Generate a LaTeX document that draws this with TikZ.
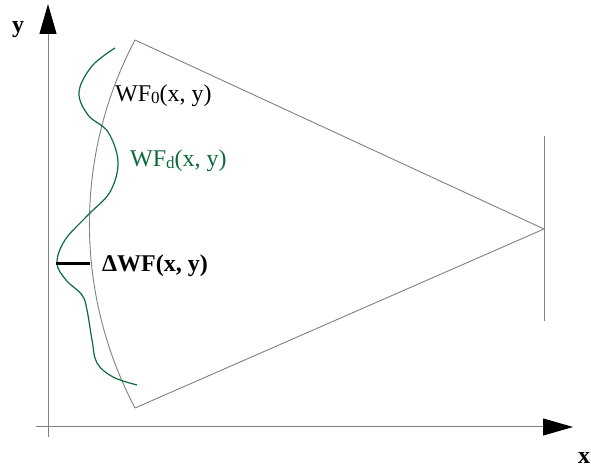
\documentclass[tikz,border=0pt]{standalone}
\usepackage{fontspec}
\setmainfont{Liberation Serif}
\usepackage{xcolor}
\usepackage{tikz}
\usetikzlibrary{arrows.meta, positioning}

\definecolor{wfgreen}{HTML}{0B6B3A}
\newcommand{\wfsub}[1]{{\fontsize{17}{17}\selectfont\raisebox{-1.5pt}{#1}}}

\begin{document}
\begin{tikzpicture}[x=1pt, y=1pt,
    axis/.style={draw=gray, line width=1pt, -{Triangle[length=30pt, width=17pt, color=black]}},
    ray/.style={draw=gray, line width=0.9pt},
    lbl/.style={anchor=base west, inner sep=0pt, font=\fontsize{24}{28}\selectfont}]
    \useasboundingbox (0,0) rectangle (591,470);

    % axes
    \draw [axis] (48,33) -- (48,466);
    \draw [axis] (36,43) -- (573,43);
    \node [lbl, font=\fontsize{24}{28}\selectfont\bfseries] (ylabel) at (12,437.5) {y};
    \node [lbl, font=\fontsize{24}{28}\selectfont\bfseries] (xlabel) at (578,6) {x};

    % wavefront cone
    \coordinate (top) at (135,430);
    \coordinate (bot) at (135,62);
    \coordinate (focus) at (544,241);
    \draw [ray] (top) -- (focus) -- (bot);
    \draw [ray] (top) arc[start angle=152.17, end angle=207.83, radius=394.1pt];
    \draw [ray] (544,334) -- (544,149);

    % distorted wavefront
    \draw [wfgreen, line width=1.2pt] plot [smooth, tension=0.6] coordinates {
        (115,422) (92,404) (79,378) (88,355) (108,338) (118,308) (110,278)
        (88,255) (65,230) (57,207) (66,190) (82,175) (87,160) (92,130)
        (97,107) (113,93) (137,85)};
    \coordinate (dl) at (56,206);
    \coordinate (dr) at (90,206);
    \draw [line width=3pt] (dl) -- (dr);

    % labels
    \node [lbl] (wf0) at (115,368) {WF\wfsub{0}(x, y)};
    \node [lbl, text=wfgreen] (wfd) at (130,303) {WF\wfsub{d}(x, y)};
    \node [lbl, font=\fontsize{24}{28}\selectfont\bfseries] (dwf) at (102,198) {ΔWF(x, y)};
\end{tikzpicture}
\end{document}
